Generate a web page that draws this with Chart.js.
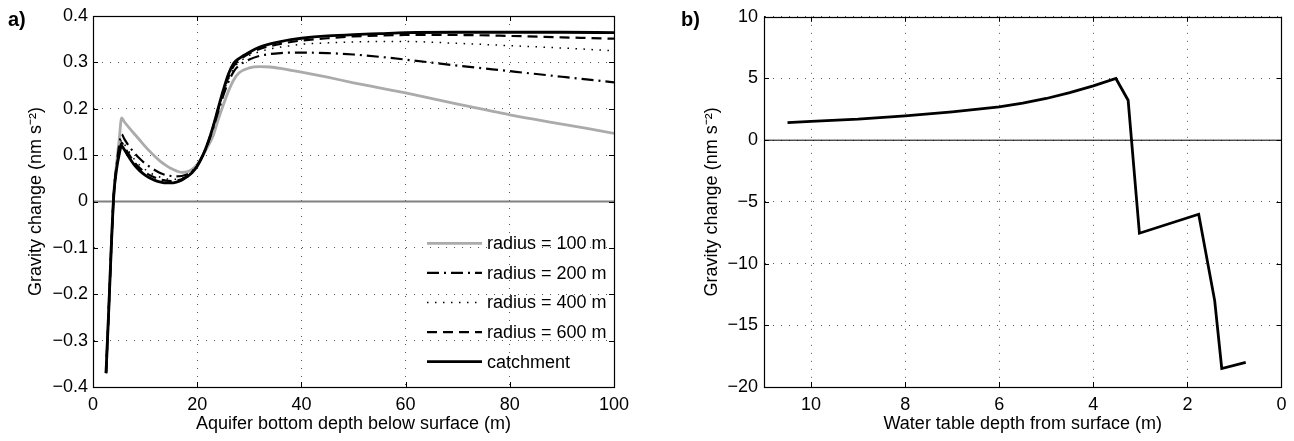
<!DOCTYPE html>
<html lang="en">
<head>
<meta charset="UTF-8" />
<title>Gravity change</title>
<script src="https://cdn.jsdelivr.net/npm/chart.js"></script>
<style>
  html, body { margin: 0; padding: 0; background: #fff; }
  body { width: 1294px; height: 441px; position: relative; overflow: hidden;
         font-family: "Liberation Sans", Arial, sans-serif; }
  .panel { position: absolute; top: 0; width: 647px; height: 441px; }
  .tag { position: absolute; top: 8px; font-weight: bold; font-size: 20px; color: #000; }
</style>
</head>
<body>
  <div class="panel" style="left:0"><canvas id="chartA" width="647" height="441"></canvas></div>
  <div class="panel" style="left:647px"><canvas id="chartB" width="647" height="441"></canvas></div>
  <div class="tag" style="left:8px">a)</div>
  <div class="tag" style="left:681px">b)</div>

<script>
// ---- panel a) data: gravity change vs aquifer bottom depth ----
const depth = [2.5, 3, 3.5, 4, 4.5, 5, 5.5, 6, 7, 8, 9, 10, 11, 12, 13, 14, 15, 16, 17, 18, 19, 20,
  21, 22, 23, 24, 25, 26, 27, 28, 30, 32, 34, 36, 38, 40, 45, 50, 55, 60, 70, 80, 90, 100];

const r100 = [-0.37, -0.24, -0.1, 0.02, 0.08, 0.13, 0.18, 0.172,
  0.158, 0.145, 0.132, 0.119, 0.107, 0.096, 0.086, 0.078, 0.071, 0.066, 0.063, 0.064, 0.069, 0.08,
  0.098, 0.118, 0.14, 0.175, 0.208, 0.238, 0.262, 0.277,
  0.288, 0.291, 0.29, 0.287, 0.283, 0.279,
  0.268, 0.256, 0.245, 0.234,
  0.21, 0.187, 0.167, 0.147];

const r200 = [-0.37, -0.24, -0.1, 0.02, 0.075, 0.12, 0.145, 0.135,
  0.118, 0.104, 0.092, 0.082, 0.074, 0.067, 0.061, 0.057, 0.055, 0.054, 0.055, 0.058, 0.065, 0.078,
  0.098, 0.124, 0.156, 0.192, 0.228, 0.258, 0.28, 0.293,
  0.306, 0.314, 0.318, 0.32, 0.321, 0.321,
  0.32, 0.317, 0.312, 0.306,
  0.293, 0.281, 0.269, 0.257];

const r400 = [-0.37, -0.24, -0.1, 0.018, 0.072, 0.11, 0.133, 0.124,
  0.106, 0.09, 0.078, 0.069, 0.062, 0.056, 0.052, 0.049, 0.048, 0.048, 0.05, 0.055, 0.064, 0.077,
  0.098, 0.125, 0.158, 0.196, 0.233, 0.264, 0.287, 0.3,
  0.315, 0.323, 0.329, 0.333, 0.336, 0.339,
  0.342, 0.344, 0.345, 0.345,
  0.341, 0.336, 0.331, 0.325];

const r600 = [-0.37, -0.24, -0.1, 0.016, 0.07, 0.105, 0.127, 0.118,
  0.1, 0.084, 0.072, 0.063, 0.056, 0.051, 0.047, 0.045, 0.044, 0.045, 0.048, 0.054, 0.063, 0.077,
  0.098, 0.125, 0.159, 0.198, 0.235, 0.268, 0.292, 0.304,
  0.319, 0.329, 0.335, 0.34, 0.344, 0.347,
  0.352, 0.356, 0.358, 0.359,
  0.359, 0.357, 0.354, 0.351];

const catchment = [-0.37, -0.24, -0.1, 0.015, 0.068, 0.1, 0.12, 0.112,
  0.094, 0.078, 0.066, 0.057, 0.05, 0.045, 0.042, 0.04, 0.04, 0.042, 0.046, 0.053, 0.062, 0.076,
  0.097, 0.125, 0.16, 0.2, 0.24, 0.275, 0.298, 0.308,
  0.322, 0.333, 0.34, 0.345, 0.349, 0.352,
  0.357, 0.36, 0.362, 0.364,
  0.365, 0.365, 0.365, 0.364];

const seriesLabels = ["radius = 100 m", "radius = 200 m", "radius = 400 m", "radius = 600 m", "catchment"];

// ---- panel b) data: gravity change vs water table depth ----
const wtDepth = [10.5, 10, 9, 8, 7, 6, 5.5, 5, 4.5, 4, 3.52, 3.26, 3.02, 1.76, 1.42, 1.27, 0.76];
const wtGravity = [1.43, 1.52, 1.7, 1.97, 2.3, 2.7, 3.0, 3.38, 3.85, 4.4, 5.0, 3.24, -7.54, -6.0, -13.0, -18.5, -18.0];

const FONT = '"Liberation Sans", Arial, sans-serif';
Chart.defaults.font.family = FONT;
Chart.defaults.font.size = 18;
Chart.defaults.color = "#000";

const pts = (xs, ys) => xs.map((x, i) => ({ x: x, y: ys[i] }));
const fmt = v => (Math.abs(v) < 1e-9 ? "0" : String(Math.round(v * 10) / 10)).replace("-", "\u2212");

// zero line under the data, box + inward ticks on top
const framePlugin = {
  id: "frame",
  beforeDatasetsDraw(chart, args, opts) {
    const { ctx, chartArea: a, scales } = chart;
    const y0 = scales.y.getPixelForValue(0);
    ctx.save();
    ctx.strokeStyle = opts.zeroColor;
    ctx.lineWidth = opts.zeroWidth;
    ctx.beginPath();
    ctx.moveTo(a.left, y0);
    ctx.lineTo(a.right, y0);
    ctx.stroke();
    ctx.restore();
  },
  afterDatasetsDraw(chart) {
    const { ctx, chartArea: a, scales } = chart;
    ctx.save();
    ctx.strokeStyle = "#000";
    ctx.lineWidth = 1;
    ctx.beginPath();
    scales.x.ticks.forEach(t => {
      const px = Math.round(scales.x.getPixelForValue(t.value)) + 0.5;
      ctx.moveTo(px, a.bottom); ctx.lineTo(px, a.bottom - 5);
      ctx.moveTo(px, a.top); ctx.lineTo(px, a.top + 5);
    });
    scales.y.ticks.forEach(t => {
      const py = Math.round(scales.y.getPixelForValue(t.value)) + 0.5;
      ctx.moveTo(a.left, py); ctx.lineTo(a.left + 5, py);
      ctx.moveTo(a.right, py); ctx.lineTo(a.right - 5, py);
    });
    ctx.stroke();
    ctx.lineWidth = 1.2;
    ctx.strokeRect(Math.round(a.left) + 0.5, Math.round(a.top) + 0.5,
      Math.round(a.right - a.left), Math.round(a.bottom - a.top));
    ctx.restore();
  }
};

// legend drawn inside the plot, lower right
const boxLegend = {
  id: "boxLegend",
  afterDraw(chart, args, opts) {
    if (!opts.show) return;
    const { ctx, chartArea: a } = chart;
    ctx.save();
    ctx.font = "18px " + FONT;
    ctx.textBaseline = "middle";
    ctx.fillStyle = "#000";
    chart.data.datasets.forEach((ds, i) => {
      const y = a.bottom - 143.7 + i * 29.6;
      ctx.strokeStyle = ds.borderColor;
      ctx.lineWidth = ds.borderWidth;
      ctx.setLineDash(ds.borderDash || []);
      ctx.beginPath();
      ctx.moveTo(a.right - 187, y);
      ctx.lineTo(a.right - 132, y);
      ctx.stroke();
      ctx.setLineDash([]);
      ctx.fillText(ds.label, a.right - 127, y + 1);
    });
    ctx.restore();
  }
};

function axis(opts) {
  return Object.assign({
    type: "linear",
    grid: { color: "#555", lineWidth: 1, drawTicks: false },
    border: { display: true, color: "#000", width: 1, dash: [1, 7] },
  }, opts);
}

const common = {
  responsive: false,
  animation: false,
  elements: { point: { radius: 0 }, line: { borderCapStyle: "butt", borderJoinStyle: "miter" } },
};

new Chart(document.getElementById("chartA"), {
  type: "line",
  data: {
    datasets: [
      { label: seriesLabels[0], data: pts(depth, r100), borderColor: "#ababab", borderWidth: 2.8, order: 5 },
      { label: seriesLabels[1], data: pts(depth, r200), borderColor: "#000", borderWidth: 2.2, borderDash: [12, 5, 2, 5], order: 4 },
      { label: seriesLabels[2], data: pts(depth, r400), borderColor: "#000", borderWidth: 1.5, borderDash: [1.5, 6.5], order: 3 },
      { label: seriesLabels[3], data: pts(depth, r600), borderColor: "#000", borderWidth: 2.2, borderDash: [10, 6], order: 2 },
      { label: seriesLabels[4], data: pts(depth, catchment), borderColor: "#000", borderWidth: 2.8, order: 1 },
    ].map(d => Object.assign(d, { fill: false, cubicInterpolationMode: "monotone" })),
  },
  options: Object.assign({}, common, {
    layout: { padding: { top: 16, right: 33, bottom: 0, left: 0 } },
    plugins: {
      legend: { display: false },
      tooltip: { enabled: false },
      frame: { zeroColor: "#808080", zeroWidth: 2 },
      boxLegend: { show: true },
    },
    scales: {
      x: axis({
        min: 0, max: 100,
        ticks: { stepSize: 20, padding: 7.5, maxRotation: 0 },
        title: { display: true, text: "Aquifer bottom depth below surface (m)", padding: { top: 0, bottom: 6.5 } },
        afterFit: s => { s.height = 54; },
      }),
      y: axis({
        min: -0.4, max: 0.4,
        ticks: { stepSize: 0.1, padding: 5, callback: fmt },
        title: { display: true, text: "Gravity change (nm s\u207B\u00B2)", padding: { top: 25, bottom: 0 } },
        afterFit: s => { s.width = 93; },
      }),
    },
  }),
  plugins: [framePlugin, boxLegend],
});

new Chart(document.getElementById("chartB"), {
  type: "line",
  data: {
    datasets: [
      { label: "gravity", data: pts(wtDepth, wtGravity), borderColor: "#000", borderWidth: 2.8, fill: false, tension: 0 },
    ],
  },
  options: Object.assign({}, common, {
    layout: { padding: { top: 16, right: 8, bottom: 0, left: 0 } },
    plugins: {
      legend: { display: false },
      tooltip: { enabled: false },
      frame: { zeroColor: "#000", zeroWidth: 1 },
      boxLegend: { show: false },
    },
    scales: {
      x: axis({
        min: 0, max: 11, reverse: true,
        ticks: { stepSize: 2, padding: 7.5, maxRotation: 0, includeBounds: false },
        title: { display: true, text: "Water table depth from surface (m)", padding: { top: 0, bottom: 6.5 } },
        afterFit: s => { s.height = 54; },
      }),
      y: axis({
        min: -20, max: 10,
        ticks: { stepSize: 5, padding: 6, callback: fmt },
        title: { display: true, text: "Gravity change (nm s\u207B\u00B2)", padding: { top: 54, bottom: 0 } },
        afterFit: s => { s.width = 117; },
      }),
    },
  }),
  plugins: [framePlugin, boxLegend],
});
</script>
</body>
</html>
